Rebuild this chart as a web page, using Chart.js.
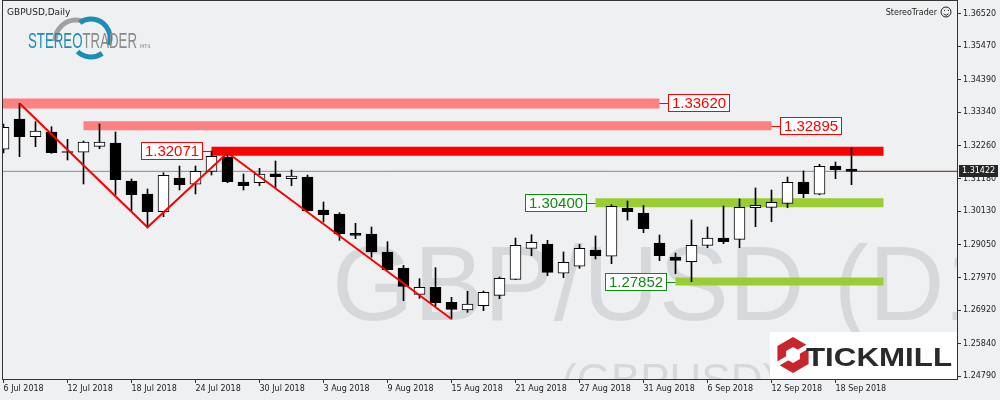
<!DOCTYPE html>
<html><head><meta charset="utf-8">
<script src="https://cdn.jsdelivr.net/npm/chart.js@4"></script>
<style>html,body{margin:0;padding:0;background:#eff0f2;overflow:hidden}</style>
</head><body>
<canvas id="c" width="1000" height="400"></canvas>
<script>
// ---------- data ----------
const dates = ['6 Jul 2018','9 Jul 2018','10 Jul 2018','11 Jul 2018','12 Jul 2018','13 Jul 2018','16 Jul 2018','17 Jul 2018',
'18 Jul 2018','19 Jul 2018','20 Jul 2018','23 Jul 2018','24 Jul 2018','25 Jul 2018','26 Jul 2018','27 Jul 2018',
'30 Jul 2018','31 Jul 2018','1 Aug 2018','2 Aug 2018','3 Aug 2018','6 Aug 2018','7 Aug 2018','8 Aug 2018',
'9 Aug 2018','10 Aug 2018','13 Aug 2018','14 Aug 2018','15 Aug 2018','16 Aug 2018','17 Aug 2018','20 Aug 2018',
'21 Aug 2018','22 Aug 2018','23 Aug 2018','24 Aug 2018','27 Aug 2018','28 Aug 2018','29 Aug 2018','30 Aug 2018',
'31 Aug 2018','3 Sep 2018','4 Sep 2018','5 Sep 2018','6 Sep 2018','7 Sep 2018','10 Sep 2018','11 Sep 2018',
'12 Sep 2018','13 Sep 2018','14 Sep 2018','17 Sep 2018','18 Sep 2018','19 Sep 2018'];
const opens  = [1.32136,1.33118,1.32544,1.32696,1.32064,1.32039,1.32233,1.32340,1.31109,1.30687,1.30114,1.31206,1.31002,1.31423,1.31886,1.31076,1.31053,1.31345,1.31183,1.31238,1.30169,1.30039,1.29414,1.29391,1.28808,1.28289,1.27437,1.27664,1.27178,1.26928,1.27068,1.27405,1.27923,1.28928,1.29067,1.28118,1.28345,1.28873,1.28669,1.30234,1.30072,1.29100,1.28646,1.28494,1.29025,1.29262,1.29219,1.30243,1.30256,1.30386,1.31076,1.30678,1.31595,1.31497];
const highs  = [1.32956,1.33626,1.33030,1.32868,1.32460,1.32405,1.32956,1.32696,1.31173,1.30849,1.31377,1.31595,1.31595,1.32081,1.32026,1.31335,1.31520,1.31757,1.31465,1.31303,1.30428,1.30081,1.29738,1.29618,1.29142,1.28377,1.27943,1.28299,1.27340,1.27534,1.27544,1.27998,1.29262,1.29368,1.29187,1.28808,1.29057,1.29326,1.30341,1.30461,1.30315,1.29359,1.28775,1.29845,1.29618,1.30298,1.30525,1.30882,1.30817,1.31238,1.31433,1.31650,1.31724,1.32178];
const lows   = [1.32016,1.31896,1.32220,1.32006,1.31789,1.31011,1.32155,1.30655,1.30146,1.29608,1.29952,1.30817,1.30687,1.31303,1.31053,1.30817,1.30956,1.30904,1.30956,1.30136,1.29780,1.29187,1.29239,1.28636,1.28225,1.27230,1.27308,1.27058,1.26637,1.26854,1.26906,1.27295,1.27910,1.28688,1.28040,1.27975,1.28280,1.28581,1.28429,1.29845,1.29433,1.28526,1.28105,1.27845,1.28947,1.29077,1.28947,1.29628,1.29790,1.30243,1.30567,1.30660,1.31183,1.30989];
const closes = [1.32849,1.32544,1.32729,1.32026,1.32032,1.32372,1.32372,1.31151,1.30665,1.30114,1.31293,1.30989,1.31423,1.31909,1.31086,1.30956,1.31335,1.31248,1.31271,1.30146,1.30017,1.29401,1.29349,1.28808,1.28234,1.27696,1.27664,1.27165,1.26951,1.27123,1.27502,1.27956,1.29025,1.29122,1.28150,1.28474,1.28928,1.28688,1.30289,1.30114,1.29563,1.28688,1.28539,1.29025,1.29262,1.29142,1.30256,1.30321,1.30418,1.31066,1.30697,1.31585,1.31475,1.31422];
const yTickValues = [1.36520,1.35470,1.34390,1.33340,1.32260,1.31180,1.30130,1.29050,1.27970,1.26920,1.25840,1.24790];
const levelValues = [1.33620,1.32895,1.32071,1.30400,1.27852];
const levelFrom   = [-1,5,13,37,42];
const levelTo     = [41,48,55,55,55];
const zigzagBars   = [1,9,14,28];
const zigzagPrices = [1.33626,1.29608,1.32026,1.26637];
const lastPrice = 1.31422;
const symbolTitle = 'GBPUSD,Daily';
const watermarkMain = 'GBP/USD (D1)';
const watermarkSub = '(GBPUSD)';

// ---------- styles ----------
const levelStyles = [
  {band:'#ff8080', ink:'#ff0000', width:10, side:'right'},
  {band:'#ff8080', ink:'#ff0000', width:9,  side:'right'},
  {band:'#ff0000', ink:'#ff0000', width:9,  side:'left'},
  {band:'#9acd32', ink:'#108a10', width:9,  side:'left'},
  {band:'#9acd32', ink:'#108a10', width:8,  side:'left'}
];
const AXIS_FONT = {family:'DejaVu Sans', size:8};
const BG = '#eff0f2';

const datasets = [];
datasets.push({type:'line', data:[{x:-1,y:lastPrice},{x:60,y:lastPrice}], borderColor:'#8a8a8a', borderWidth:1, pointRadius:0, order:20});
datasets.push({type:'line', data:[{x:53.35,y:lastPrice},{x:60,y:lastPrice}], borderColor:'#8b3a1a', borderWidth:1, pointRadius:0, order:19});
levelValues.forEach((v,i)=>{
  datasets.push({type:'line', data:[{x:levelFrom[i],y:v},{x:levelTo[i],y:v}], borderColor:levelStyles[i].band,
    borderWidth:levelStyles[i].width, borderCapStyle:'butt', pointRadius:0, order:10});
});
datasets.push({type:'bar', data:lows.map((l,i)=>({x:i,y:[l,highs[i]]})), backgroundColor:'#000', barThickness:1, grouped:false, order:5});
datasets.push({type:'bar', data:opens.map((o,i)=>({x:i,y:[o,closes[i]]})),
  backgroundColor:opens.map((o,i)=>closes[i]>=o?'#ffffff':'#000000'), borderColor:'#000', borderWidth:1,
  borderSkipped:false, barThickness:11, grouped:false, order:4});
datasets.push({type:'line', data:zigzagBars.map((b,i)=>({x:b,y:zigzagPrices[i]})), borderColor:'#ff0000', borderWidth:2, pointRadius:0, order:1});

const decor = {
  id:'decor',
  beforeDraw(chart){
    const c=chart.ctx; c.save(); c.fillStyle=BG; c.fillRect(0,0,chart.width,chart.height); c.restore();
  },
  beforeDatasetsDraw(chart){
    const c=chart.ctx, a=chart.chartArea;
    c.save(); c.beginPath(); c.rect(a.left,a.top,a.right-a.left,a.bottom-a.top); c.clip();
    c.fillStyle='#d6d9db'; c.textAlign='left'; c.textBaseline='alphabetic';
    c.font='105px "Liberation Sans"'; c.fillText(watermarkMain, 332, 320);
    c.font='44px "Liberation Sans"'; c.fillText(watermarkSub, 562, 395);
    c.restore();
  },
  afterDatasetsDraw(chart){
    const c=chart.ctx, xs=chart.scales.x, ys=chart.scales.y;
    c.save();
    c.font='15px "Liberation Sans"'; c.textAlign='center'; c.textBaseline='middle';
    levelValues.forEach((v,i)=>{
      const st=levelStyles[i];
      const y=ys.getPixelForValue(v);
      const x0=xs.getPixelForValue(levelFrom[i]), x1=xs.getPixelForValue(levelTo[i]);
      const txt=v.toFixed(5);
      const w=Math.round(c.measureText(txt).width)+8, h=18;
      let bx;
      c.strokeStyle=st.ink; c.lineWidth=1;
      const ly=Math.round(y)+0.5;
      if(st.side==='right'){ bx=Math.round(x1)+8; c.beginPath(); c.moveTo(x1,ly); c.lineTo(bx,ly); c.stroke(); }
      else { bx=Math.round(x0)-9-w; c.beginPath(); c.moveTo(bx+w,ly); c.lineTo(x0,ly); c.stroke(); }
      const by=Math.round(y-h/2);
      c.fillStyle='#ffffff'; c.fillRect(bx,by,w,h);
      c.strokeRect(bx+0.5,by+0.5,w-1,h-1);
      c.fillStyle=st.ink; c.fillText(txt,bx+w/2,by+h/2+1);
    });
    // current price tag on the axis
    const py=ys.getPixelForValue(lastPrice);
    c.fillStyle='#262626'; c.fillRect(959,Math.round(py)-6,39,12);
    c.fillStyle='#ffffff'; c.font='8px "DejaVu Sans"'; c.textAlign='left'; c.textBaseline='middle';
    c.fillText(lastPrice.toFixed(5),962,Math.round(py));
    c.restore();
  },
  afterDraw(chart){
    const c=chart.ctx;
    c.save();
    // frame
    c.strokeStyle='#333'; c.lineWidth=1; c.strokeRect(2.5,0.5,955,379);
    // title
    c.fillStyle='#222'; c.font='9px "DejaVu Sans"'; c.textAlign='left'; c.textBaseline='alphabetic';
    c.fillText(symbolTitle,7,15);
    // StereoTrader top right
    c.font='8px "DejaVu Sans"'; c.textAlign='right'; c.fillText('StereoTrader',937,15);
    c.strokeStyle='#222'; c.beginPath(); c.arc(946,12,5,0,Math.PI*2); c.stroke();
    c.fillStyle='#222'; c.fillRect(944,10,1,1); c.fillRect(948,10,1,1);
    c.beginPath(); c.arc(946,12,3,0.2*Math.PI,0.8*Math.PI); c.stroke();
    // StereoTrader logo
    c.lineWidth=5; c.strokeStyle='#a0a0a0';
    c.beginPath(); c.arc(76,41,21,Math.PI*1.0,Math.PI*1.62); c.stroke();
    c.strokeStyle='#1b8db6';
    c.beginPath(); c.arc(91,38,19,Math.PI*1.3,Math.PI*2.12); c.stroke();
    c.beginPath(); c.arc(91,38,19,Math.PI*0.3,Math.PI*0.75); c.stroke();
    c.font='22px "Liberation Sans"'; c.textAlign='left';
    const w1=c.measureText('STEREO').width, wAll=c.measureText('STEREOTRADER').width;
    const sx=109/wAll;
    c.save(); c.translate(28,48); c.scale(sx,1);
    c.fillStyle='#1b8db6'; c.fillText('STEREO',0,0);
    c.fillStyle='#8a8a8a'; c.fillText('TRADER',w1,0);
    c.restore();
    c.fillStyle='#8a8a8a'; c.font='5px "DejaVu Sans"'; c.fillText('MT4',140,48);
    // Tickmill logo
    c.fillStyle='#ffffff'; c.fillRect(770,332,187,47);
    const hx=793, hy=355;
    const hex=(r)=>{c.beginPath(); for(let k=0;k<6;k++){const an=Math.PI/3*k-Math.PI/2; const px=hx+r*Math.cos(an), py2=hy+r*Math.sin(an); k?c.lineTo(px,py2):c.moveTo(px,py2);} c.closePath();};
    c.fillStyle='#c9252c'; hex(18); c.fill();
    c.fillStyle='#ffffff'; hex(8); c.fill();
    c.save(); c.translate(hx,hy); c.rotate(-Math.PI/6);
    c.fillRect(6,-2.2,14,4.4); c.fillRect(-20,-2.2,14,4.4);
    c.restore();
    c.fillStyle='#2a2a2a'; c.font='bold 26px "Liberation Sans"'; c.textBaseline='alphabetic';
    const tw=c.measureText('TICKMILL').width;
    c.save(); c.translate(806,366); c.scale(146/tw,1); c.fillText('TICKMILL',0,0); c.restore();
    c.restore();
  }
};

new Chart(document.getElementById('c'), {
  type:'bar',
  data:{datasets},
  plugins:[decor],
  options:{
    responsive:false, devicePixelRatio:1, animation:false,
    layout:{padding:{left:3,top:1,right:0,bottom:0}},
    plugins:{legend:{display:false}, tooltip:{enabled:false}},
    scales:{
      x:{type:'linear', min:-0.03125, max:59.59375, offset:false,
        afterBuildTicks:s=>{ s.ticks=dates.map((d,i)=>i).filter(i=>i%4===0).map(v=>({value:v})); },
        afterFit:s=>{ s.height=21; s.paddingLeft=0; s.paddingRight=0; },
        ticks:{autoSkip:false, maxRotation:0, minRotation:0, align:'start', padding:1, font:AXIS_FONT, color:'#222',
          callback:v=>dates[v]},
        grid:{offset:false, drawOnChartArea:false, drawTicks:true, tickLength:4, color:'#333'},
        border:{display:false}},
      y:{type:'linear', position:'right', min:1.246928, max:1.369412,
        afterBuildTicks:s=>{ s.ticks=yTickValues.map(v=>({value:v})); },
        afterFit:s=>{ s.width=43; s.paddingTop=0; s.paddingBottom=0; },
        ticks:{autoSkip:false, padding:2, font:AXIS_FONT, color:'#222', callback:v=>Number(v).toFixed(5)},
        grid:{drawOnChartArea:false, drawTicks:true, tickLength:4, color:'#333'},
        border:{display:false}}
    }
  }
});
</script>
</body></html>
